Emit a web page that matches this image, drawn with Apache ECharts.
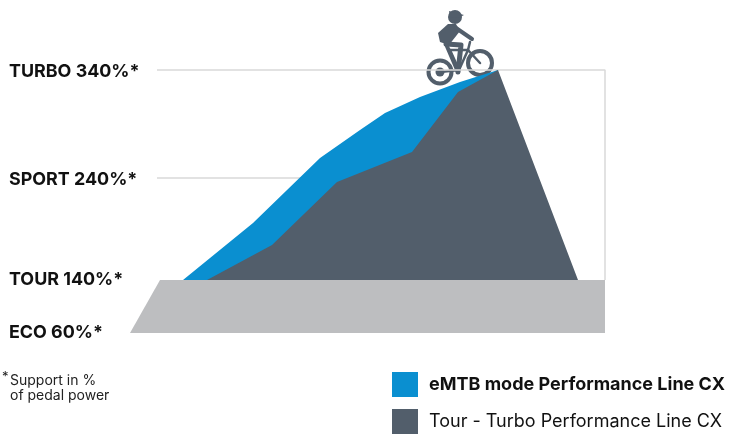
<!DOCTYPE html>
<html>
<head>
<meta charset="utf-8">
<style>html,body{margin:0;padding:0;background:#fff}#chart{width:743px;height:436px}</style>
<script src="https://cdn.jsdelivr.net/npm/echarts@6/dist/echarts.min.js"></script>
</head>
<body>
<div id="chart"></div>
<script>
// x = distance along the climb, y = height above the base of the ground band
var emtbX = [53, 123, 190, 230, 255, 290, 330, 368];
var emtbY = [53, 110, 175, 203, 220, 236, 251, 263];
var tourX = [77, 142, 207, 282, 328, 368, 448];
var tourY = [53, 88, 151, 181, 241, 263, 53];
var groundX = [0, 30, 475];
var groundY = [0, 53, 53];
var modeLabels = ['ECO 60%*', 'TOUR 140%*', 'SPORT 240%*', 'TURBO 340%*'];
var modeHeights = [0, 53, 153, 261];
var turboLineX = [27, 475, 475];
var turboLineY = [263, 263, 53];
var sportLineX = [27, 195];
var sportLineY = [155, 155];

var dark = '#525e6b';
var blue = '#0a8fd0';

function pairs(xs, ys) {
    return xs.map(function (x, i) { return [x, ys[i]]; });
}

function guide(xs, ys) {
    return {
        type: 'line', data: pairs(xs, ys), symbol: 'none', silent: true, z: 1,
        lineStyle: { color: '#d9d9d9', width: 1.5 }
    };
}

function bar(pts, w) {
    return { type: 'polyline', shape: { points: pts }, style: { stroke: dark, lineWidth: w, fill: null, lineCap: 'round', lineJoin: 'round' } };
}

var chart = echarts.init(document.getElementById('chart'));
chart.setOption({
    animation: false,
    grid: { left: 130, right: 138, top: 10, bottom: 103 },
    xAxis: { type: 'value', min: 0, max: 475, show: false },
    yAxis: {
        type: 'value', min: 0, max: 323,
        splitLine: { show: false }, axisLine: { show: false }, axisTick: { show: false },
        axisLabel: {
            customValues: modeHeights,
            align: 'left', margin: 121,
            color: '#111', fontFamily: 'Inter', fontWeight: 'bold', fontSize: 17.9,
            formatter: function (v) { return modeLabels[modeHeights.indexOf(v)]; }
        }
    },
    legend: {
        orient: 'vertical', left: 392, top: 372, height: 90, padding: 0, itemWidth: 26, itemHeight: 25, itemGap: 12,
        icon: 'rect', selectedMode: false,
        textStyle: { fontFamily: 'Inter', fontSize: 18, color: '#111', padding: [3, 0, 0, 6] },
        data: [
            { name: 'eMTB mode Performance Line CX', textStyle: { fontWeight: 'bold' } },
            { name: 'Tour - Turbo Performance Line CX' }
        ]
    },
    series: [
        guide(turboLineX, turboLineY),
        guide(sportLineX, sportLineY),
        {
            name: 'eMTB mode Performance Line CX', type: 'line', data: pairs(emtbX, emtbY), symbol: 'none', z: 2,
            itemStyle: { color: blue }, lineStyle: { color: blue, width: 0 }, areaStyle: { color: blue, opacity: 1 }
        },
        {
            name: 'Tour - Turbo Performance Line CX', type: 'line', data: pairs(tourX, tourY), symbol: 'none', z: 3,
            itemStyle: { color: dark }, lineStyle: { color: dark, width: 0 }, areaStyle: { color: dark, opacity: 1 }
        },
        {
            type: 'line', data: pairs(groundX, groundY), symbol: 'none', z: 4, silent: true,
            lineStyle: { width: 0 }, areaStyle: { color: '#bdbec0', opacity: 1 }
        }
    ],
    graphic: [
        {
            type: 'text', left: 2, top: 371,
            style: { text: '*', fill: '#222', font: '13px "Inter"' }
        },
        {
            type: 'text', left: 10, top: 373,
            style: { text: 'Support in %\nof pedal power', fill: '#222', font: '14px "Inter"', lineHeight: 15 }
        },
        {
            // rider on top of the peak
            type: 'group', z: 10,
            children: [
                { type: 'circle', shape: { cx: 440, cy: 72, r: 11.5 }, style: { stroke: dark, lineWidth: 4, fill: '#fff' } },
                { type: 'circle', shape: { cx: 440, cy: 72, r: 4.5 }, style: { fill: dark } },
                { type: 'circle', shape: { cx: 480, cy: 63, r: 12 }, style: { stroke: dark, lineWidth: 4, fill: '#fff' } },
                bar([[440, 72], [459, 70], [468, 50], [480, 63]], 2.5),
                bar([[450, 50], [459, 70]], 2.5),
                bar([[450, 50], [468, 50]], 2.5),
                bar([[468, 50], [470, 42]], 2.5),
                { type: 'circle', shape: { cx: 455, cy: 17, r: 7 }, style: { fill: dark } },
                { type: 'polygon', shape: { points: [[449, 11], [464, 15], [458, 18], [450, 17]] }, style: { fill: dark } },
                { type: 'polygon', shape: { points: [[448, 24], [456, 24], [460, 31], [449, 45], [440, 42], [438, 33]] }, style: { fill: dark } },
                bar([[456, 28], [472, 39]], 4),
                bar([[446, 44], [461, 45], [458, 72]], 5),
                bar([[446, 44], [452, 58], [458, 72]], 4)
            ]
        }
    ]
});
</script>
</body>
</html>
